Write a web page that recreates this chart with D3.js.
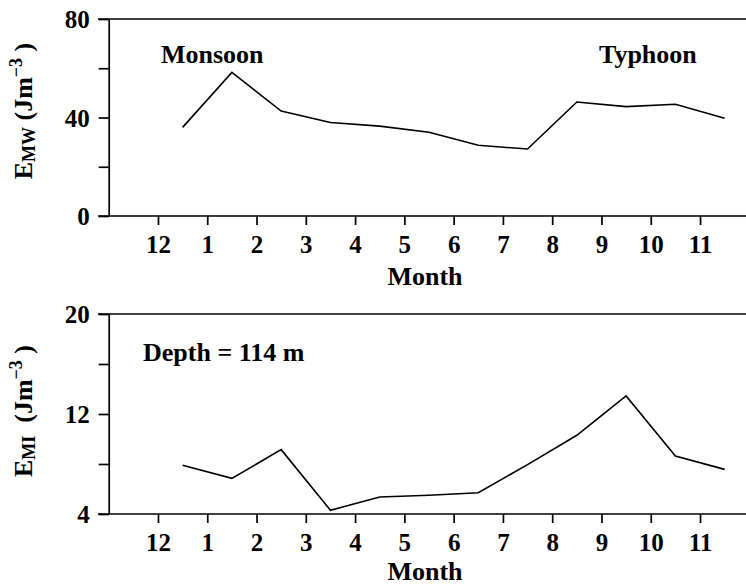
<!DOCTYPE html>
<html>
<head>
<meta charset="utf-8">
<script src="https://cdn.jsdelivr.net/npm/d3@7"></script>
<style>
  html, body { margin: 0; padding: 0; background: #fff; }
  svg { display: block; }
  text { font-family: "Liberation Serif", "Times New Roman", serif; font-weight: bold; fill: #000; }
</style>
</head>
<body>
<svg id="chart" width="746" height="585"></svg>
<script>
// Month tick labels (first tick is December of the previous year)
const monthLabels = ["12", "1", "2", "3", "4", "5", "6", "7", "8", "9", "10", "11"];
// Monthly values, plotted mid-month between ticks
const monthPos = [0.5, 1.5, 2.5, 3.5, 4.5, 5.5, 6.5, 7.5, 8.5, 9.5, 10.5, 11.5];
// Mean wave energy E_MW (J m^-3)
const emwValues = [36.0, 58.3, 42.6, 38.0, 36.5, 34.0, 28.7, 27.2, 46.3, 44.4, 45.4, 39.7];
// Internal-wave energy E_MI (J m^-3) at 114 m depth
const emiValues = [7.9, 6.85, 9.15, 4.3, 5.36, 5.5, 5.7, 7.95, 10.3, 13.45, 8.64, 7.57];
// Y-axis ticks and labels
const emwTicks = [0, 20, 40, 60, 80];
const emwLabelled = [0, 40, 80];
const emiTicks = [4, 8, 12, 16, 20];
const emiLabelled = [4, 12, 20];

const svg = d3.select("#chart");
const FS = 26;      // titles and annotations
const FS_TICK = 25; // tick labels
const LW = 1.7;

const x = d3.scaleLinear().domain([-1, 12]).range([108.7, 749.3]);
const xLeftEdge = 98;   // horizontal frame lines start left of the y axis
const xRightEdge = 746;

function panel(cfg) {
  const g = svg.append("g");
  const y = d3.scaleLinear().domain(cfg.domain).range([cfg.bottom, cfg.top]);

  // frame: top line and bottom axis line
  g.append("line").attr("x1", xLeftEdge).attr("x2", xRightEdge)
    .attr("y1", y(cfg.domain[1])).attr("y2", y(cfg.domain[1]))
    .attr("stroke", "#000").attr("stroke-width", LW);
  g.append("line").attr("x1", xLeftEdge).attr("x2", xRightEdge)
    .attr("y1", y(cfg.domain[0])).attr("y2", y(cfg.domain[0]))
    .attr("stroke", "#000").attr("stroke-width", LW);

  // y axis
  const yAxis = d3.axisLeft(y).tickValues(cfg.ticks).tickSize(10).tickSizeOuter(0).tickPadding(9)
    .tickFormat(d => cfg.labelled.includes(d) ? String(d) : "");
  const ya = g.append("g").attr("transform", `translate(${x(-1)},0)`).call(yAxis);
  ya.select(".domain").attr("stroke", "#000").attr("stroke-width", LW);
  ya.selectAll(".tick line").attr("stroke", "#000").attr("stroke-width", LW);
  ya.selectAll(".tick text").attr("font-size", FS_TICK).attr("font-family", null).attr("dy", "0.34em");

  // x axis (month ticks)
  const xAxis = d3.axisBottom(x).tickValues(d3.range(0, 12)).tickSize(9).tickPadding(10)
    .tickFormat(i => monthLabels[i]);
  const xa = g.append("g").attr("transform", `translate(0,${y(cfg.domain[0])})`).call(xAxis);
  xa.select(".domain").remove();
  xa.selectAll(".tick line").attr("stroke", "#000").attr("stroke-width", LW);
  xa.selectAll(".tick text").attr("font-size", FS_TICK).attr("font-family", null);

  // axis title
  g.append("text").attr("x", 425).attr("y", y(cfg.domain[0]) + cfg.monthGap)
    .attr("text-anchor", "middle").attr("font-size", FS).text("Month");

  // data line
  const line = d3.line().x((d, i) => x(monthPos[i])).y(d => y(d));
  g.append("path").datum(cfg.values).attr("d", line)
    .attr("fill", "none").attr("stroke", "#000").attr("stroke-width", 1.6)
    .attr("stroke-linejoin", "miter");

  // rotated y title with subscript / superscript
  const t = g.append("text")
    .attr("transform", `translate(32,${cfg.titleY}) rotate(-90)`)
    .attr("text-anchor", "middle").attr("font-size", FS)
    .style("white-space", "pre");
  t.append("tspan").text("E");
  t.append("tspan").attr("font-size", 18).attr("dy", 3).text(cfg.sub);
  t.append("tspan").attr("dy", -3).text(cfg.gap + "(Jm");
  t.append("tspan").attr("font-size", 18).attr("dy", -10).text("\u22123");
  t.append("tspan").attr("dy", 10).text(" )");
  return { g, y };
}

const upperPanel = panel({
  domain: [0, 80], top: 19, bottom: 216, ticks: emwTicks, labelled: emwLabelled,
  values: emwValues, sub: "MW", gap: " ", titleY: 111, monthGap: 69
});
upperPanel.g.append("text").attr("x", 161).attr("y", 63).attr("font-size", FS).text("Monsoon");
upperPanel.g.append("text").attr("x", 599).attr("y", 63).attr("font-size", FS).text("Typhoon");

const lowerPanel = panel({
  domain: [4, 20], top: 314, bottom: 514, ticks: emiTicks, labelled: emiLabelled,
  values: emiValues, sub: "MI", gap: "  ", titleY: 411, monthGap: 66
});
lowerPanel.g.append("text").attr("x", 143).attr("y", 361).attr("font-size", FS).text("Depth = 114 m");
</script>
</body>
</html>
